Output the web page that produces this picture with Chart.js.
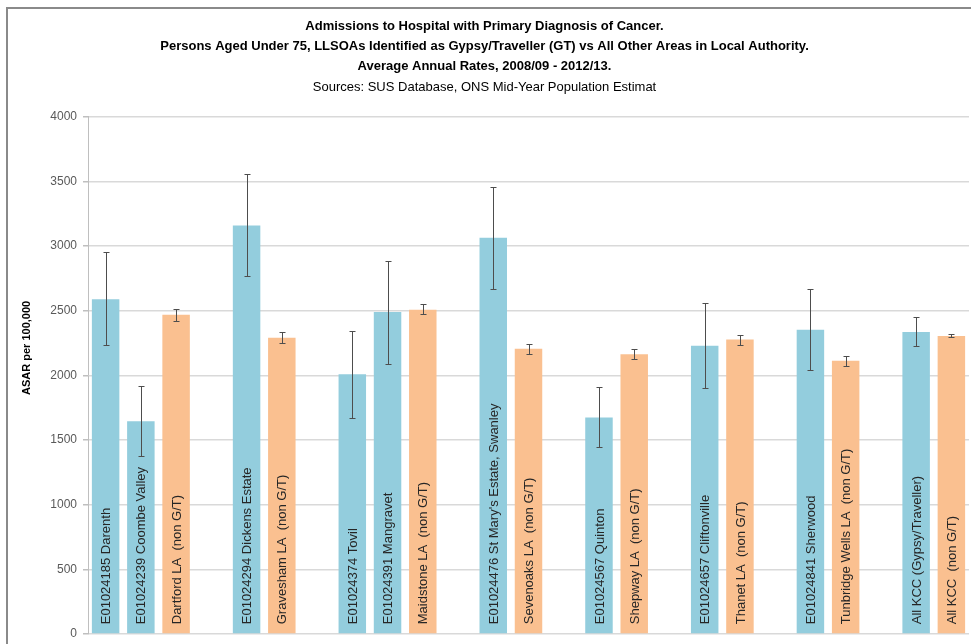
<!DOCTYPE html>
<html>
<head>
<meta charset="utf-8">
<script src="https://cdn.jsdelivr.net/npm/chart.js@4.4.1/dist/chart.umd.min.js"></script>
<style>
  html, body { margin: 0; padding: 0; background: #ffffff; }
  #wrap { position: relative; width: 971px; height: 644px; overflow: hidden; }
  #frame { position: absolute; left: 6px; top: 7px; width: 980px; height: 660px;
           border-top: 2px solid #8a8a8a; border-left: 2px solid #8a8a8a; pointer-events: none; }
  canvas { position: absolute; left: 0; top: 0; }
</style>
</head>
<body>
<div id="wrap">
  <canvas id="chart" width="971" height="644"></canvas>
  <div id="frame"></div>
</div>
<script>
// Area names; empty strings leave a gap between local authorities
const categories = [
  'E01024185 Darenth', 'E01024239 Coombe Valley', 'Dartford LA  (non G/T)', '',
  'E01024294 Dickens Estate', 'Gravesham LA  (non G/T)', '',
  'E01024374 Tovil', 'E01024391 Mangravet', 'Maidstone LA  (non G/T)', '',
  "E01024476 St Mary's Estate, Swanley", 'Sevenoaks LA  (non G/T)', '',
  'E01024567 Quinton', 'Shepway LA  (non G/T)', '',
  'E01024657 Cliftonville', 'Thanet LA  (non G/T)', '',
  'E01024841 Sherwood', 'Tunbridge Wells LA  (non G/T)', '',
  'All KCC (Gypsy/Traveller)', 'All KCC  (non G/T)'
];

// Age-standardised admission rates per 100,000, Gypsy/Traveller LSOAs
const gtRates = [2587, 1645, null, null, 3158, null, null, 2008, 2489, null, null, 3063, null, null,
                 1673, null, null, 2229, null, null, 2353, null, null, 2334, null];

// Rates for the rest of each local authority (non G/T)
const laRates = [null, null, 2469, null, null, 2291, null, null, null, 2507, null, null, 2206, null,
                 null, 2162, null, null, 2276, null, null, 2113, null, null, 2303];

// 95% confidence interval limits
const lowerCI = [2237, 1375, 2419, null, 2767, 2247, null, 1670, 2085, 2476, null, 2664, 2168, null,
                 1442, 2129, null, 1905, 2237, null, 2039, 2075, null, 2226, 2293];
const upperCI = [2952, 1918, 2515, null, 3560, 2334, null, 2345, 2886, 2548, null, 3459, 2245, null,
                 1910, 2206, null, 2561, 2309, null, 2667, 2147, null, 2448, 2317];

const yTicks = [0, 500, 1000, 1500, 2000, 2500, 3000, 3500, 4000];

const titleLines = [
  'Admissions to Hospital with Primary Diagnosis of Cancer.',
  'Persons Aged Under 75, LLSOAs Identified as Gypsy/Traveller (GT) vs All Other Areas in Local Authority.',
  'Average Annual Rates, 2008/09 - 2012/13.'
];
const sourceLine = 'Sources: SUS Database, ONS Mid-Year Population Estimat';
const yAxisTitle = 'ASAR per 100,000';

const FONT = "'Liberation Sans', Arial, sans-serif";

// Category names written upwards inside each bar, from the base
const barLabels = {
  id: 'barLabels',
  afterDatasetsDraw(chart) {
    const ctx = chart.ctx;
    ctx.save();
    ctx.font = '13px ' + FONT;
    ctx.fillStyle = '#262626';
    ctx.textAlign = 'left';
    ctx.textBaseline = 'middle';
    chart.data.datasets.forEach((ds, di) => {
      const meta = chart.getDatasetMeta(di);
      meta.data.forEach((bar, i) => {
        if (ds.data[i] == null) return;
        ctx.save();
        ctx.translate(bar.x + 1, bar.base - 9);
        ctx.rotate(-Math.PI / 2);
        ctx.fillText(categories[i], 0, 0);
        ctx.restore();
      });
    });
    ctx.restore();
  }
};

// Confidence interval whiskers
const errorBars = {
  id: 'errorBars',
  afterDatasetsDraw(chart) {
    const ctx = chart.ctx;
    const y = chart.scales.y;
    const x = chart.scales.x;
    ctx.save();
    ctx.strokeStyle = '#4d4d4d';
    ctx.lineWidth = 1;
    categories.forEach((c, i) => {
      if (lowerCI[i] == null || upperCI[i] == null) return;
      const px = Math.round(x.getPixelForValue(i)) + 0.5;
      const yLo = Math.round(y.getPixelForValue(lowerCI[i])) + 0.5;
      const yHi = Math.round(y.getPixelForValue(upperCI[i])) + 0.5;
      ctx.beginPath();
      ctx.moveTo(px, yLo); ctx.lineTo(px, yHi);
      ctx.moveTo(px - 3, yLo); ctx.lineTo(px + 3, yLo);
      ctx.moveTo(px - 3, yHi); ctx.lineTo(px + 3, yHi);
      ctx.stroke();
    });
    ctx.restore();
  }
};

// Rotated title for the value axis
const valueAxisTitle = {
  id: 'valueAxisTitle',
  afterDraw(chart) {
    const ctx = chart.ctx;
    const a = chart.chartArea;
    ctx.save();
    ctx.font = 'bold 11px ' + FONT;
    ctx.fillStyle = '#000000';
    ctx.textAlign = 'center';
    ctx.textBaseline = 'middle';
    ctx.translate(27, a.top + (a.bottom - a.top) * 0.447);
    ctx.rotate(-Math.PI / 2);
    ctx.fillText(yAxisTitle, 0, 0);
    ctx.restore();
  }
};

new Chart(document.getElementById('chart'), {
  type: 'bar',
  data: {
    labels: categories,
    datasets: [
      { label: 'Gypsy/Traveller LSOA', data: gtRates, backgroundColor: '#93CDDD' },
      { label: 'Rest of local authority', data: laRates, backgroundColor: '#FAC090' }
    ]
  },
  options: {
    responsive: false,
    animation: false,
    devicePixelRatio: 1,
    layout: { padding: { left: 0, right: 2, top: 0, bottom: 10 } },
    datasets: { bar: { grouped: false, categoryPercentage: 1, barPercentage: 0.78 } },
    plugins: {
      legend: { display: false },
      tooltip: { enabled: false },
      title: {
        display: true,
        text: titleLines,
        color: '#000000',
        font: { family: FONT, size: 13, weight: 'bold', lineHeight: 1.55 },
        padding: { top: 16, bottom: 0 }
      },
      subtitle: {
        display: true,
        text: sourceLine,
        color: '#000000',
        font: { family: FONT, size: 13, weight: 'normal', lineHeight: 1.55 },
        padding: { top: 1, bottom: 19 }
      }
    },
    scales: {
      x: { display: false },
      y: {
        min: 0,
        max: 4000,
        afterFit(scale) {
          scale.width = 88;
          scale.paddingTop = 0;
          scale.paddingBottom = 0;
        },
        afterBuildTicks(scale) { scale.ticks = yTicks.map(v => ({ value: v })); },
        ticks: {
          color: '#595959',
          font: { family: FONT, size: 12 },
          padding: 6,
          callback: (v) => String(v)
        },
        grid: { color: '#d9d9d9', lineWidth: 1.5, tickLength: 5, tickColor: '#bfbfbf' },
        border: { color: '#bfbfbf', width: 1 }
      }
    }
  },
  plugins: [barLabels, errorBars, valueAxisTitle]
});
</script>
</body>
</html>
